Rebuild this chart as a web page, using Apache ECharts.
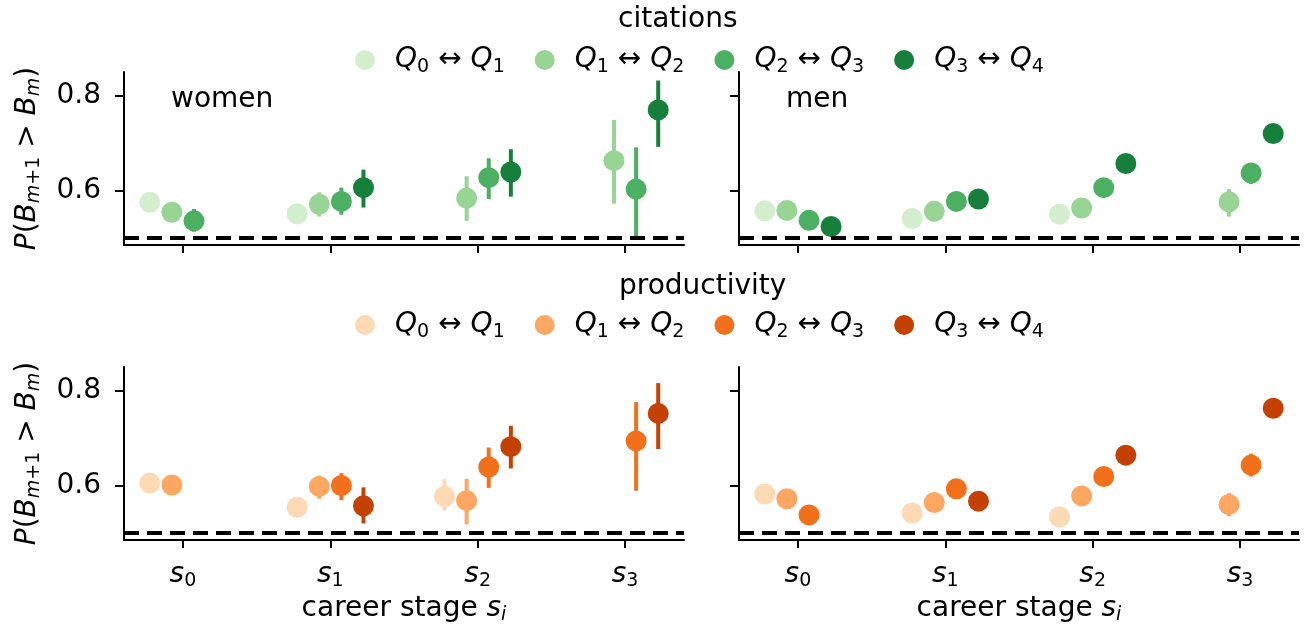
<!DOCTYPE html>
<html>
<head>
<meta charset="utf-8">
<script src="https://cdn.jsdelivr.net/npm/echarts@6/dist/echarts.min.js"></script>
<style>
  html, body { margin: 0; padding: 0; background: #fff; }
  #chart { width: 1306px; height: 632px; }
</style>
</head>
<body>
<div id="chart"></div>
<script>
// career stages (x ticks) and quantile pairs (legend)
const stages = [0, 1, 2, 3];
const pairLabels = [['0', '1'], ['1', '2'], ['2', '3'], ['3', '4']];
const yTicks = [0.6, 0.8];

// rows: Q0<->Q1 .. Q3<->Q4, columns: s0 .. s3
const citWomen   = [[0.575, 0.551, null, null], [0.554, 0.571, 0.584, 0.663], [0.536, 0.577, 0.627, 0.603], [null, 0.606, 0.639, 0.770]];
const citWomenLo = [[0.566, 0.542, null, null], [0.545, 0.545, 0.536, 0.572], [0.513, 0.549, 0.582, 0.504], [null, 0.564, 0.587, 0.692]];
const citWomenHi = [[0.584, 0.560, null, null], [0.563, 0.596, 0.630, 0.749], [0.561, 0.606, 0.668, 0.691], [null, 0.644, 0.687, 0.832]];

const citMen     = [[0.557, 0.541, 0.550, null], [0.558, 0.556, 0.563, 0.576], [0.537, 0.577, 0.606, 0.637], [0.524, 0.582, 0.657, 0.720]];
const citMenLo   = [[0.549, 0.533, 0.542, null], [0.550, 0.548, 0.555, 0.545], [0.529, 0.569, 0.597, 0.614], [0.515, 0.573, 0.647, 0.708]];
const citMenHi   = [[0.565, 0.549, 0.558, null], [0.566, 0.564, 0.571, 0.603], [0.545, 0.585, 0.615, 0.658], [0.533, 0.591, 0.667, 0.732]];

const prodWomen   = [[0.605, 0.554, 0.577, null], [0.601, 0.598, 0.568, null], [null, 0.600, 0.639, 0.694], [null, 0.557, 0.682, 0.752]];
const prodWomenLo = [[0.596, 0.545, 0.547, null], [0.592, 0.572, 0.518, null], [null, 0.569, 0.595, 0.589], [null, 0.520, 0.636, 0.677]];
const prodWomenHi = [[0.614, 0.563, 0.613, null], [0.610, 0.621, 0.614, null], [null, 0.626, 0.680, 0.776], [null, 0.596, 0.726, 0.816]];

const prodMen     = [[0.582, 0.542, 0.534, null], [0.572, 0.564, 0.578, 0.560], [0.538, 0.593, 0.619, 0.643], [null, 0.567, 0.664, 0.763]];
const prodMenLo   = [[0.574, 0.534, 0.526, null], [0.564, 0.556, 0.570, 0.535], [0.530, 0.585, 0.610, 0.619], [null, 0.558, 0.654, 0.751]];
const prodMenHi   = [[0.590, 0.550, 0.542, null], [0.580, 0.572, 0.586, 0.584], [0.546, 0.601, 0.628, 0.667], [null, 0.576, 0.674, 0.775]];

const FONT = 'DejaVu Sans';
const greens = ['#d3eecd', '#98d594', '#4bb062', '#157f3b'];
const oranges = ['#fdd9b4', '#fda762', '#f3701b', '#c54102'];
const dodge = [-0.225, -0.075, 0.075, 0.225];

const rich = {
  i: { fontFamily: FONT, fontSize: 28, fontStyle: 'italic', color: '#000' },
  n: { fontFamily: FONT, fontSize: 28, color: '#000' },
  sub: { fontFamily: FONT, fontSize: 19, color: '#000', padding: [14, 0, 0, 0] },
  si: { fontFamily: FONT, fontSize: 19, fontStyle: 'italic', color: '#000', padding: [14, 0, 0, 0] }
};

const panels = [
  { mean: citWomen, lo: citWomenLo, hi: citWomenHi, colors: greens, key: 'cit' },
  { mean: citMen, lo: citMenLo, hi: citMenHi, colors: greens, key: 'cit' },
  { mean: prodWomen, lo: prodWomenLo, hi: prodWomenHi, colors: oranges, key: 'prod' },
  { mean: prodMen, lo: prodMenLo, hi: prodMenHi, colors: oranges, key: 'prod' }
];

const grids = [
  { left: 124, top: 72, width: 560, height: 173 },
  { left: 739, top: 72, width: 560, height: 173 },
  { left: 124, top: 367, width: 560, height: 173 },
  { left: 739, top: 367, width: 560, height: 173 }
];

const axisLine = { show: true, onZero: false, lineStyle: { color: '#000', width: 2 } };
const tickLine = { color: '#000', width: 2 };

const xAxes = grids.map((g, i) => ({
  gridIndex: i, type: 'value', min: -0.4, max: 3.4,
  axisLine: axisLine,
  axisTick: { show: true, customValues: stages, length: 8, lineStyle: tickLine },
  axisLabel: {
    show: i >= 2, customValues: stages, margin: 18,
    formatter: v => `{i|s}{sub|${v}}`, rich: rich
  },
  splitLine: { show: false },
  name: i >= 2 ? '{n|career stage }{i|s}{si|i}' : '',
  nameLocation: 'middle', nameGap: 52,
  nameTextStyle: { rich: rich }
}));

const yAxes = grids.map((g, i) => ({
  gridIndex: i, type: 'value', min: 0.485, max: 0.85,
  axisLine: axisLine,
  axisTick: { show: true, customValues: yTicks, length: 9, lineStyle: tickLine },
  axisLabel: {
    show: i % 2 === 0, customValues: yTicks, margin: 23,
    formatter: v => v.toFixed(1), fontFamily: FONT, fontSize: 28, color: '#000'
  },
  splitLine: { show: false },
  name: i % 2 === 0 ? '{i|P}{n|(}{i|B}{si|m}{sub|+1}{n| > }{i|B}{si|m}{n|)}' : '',
  nameLocation: 'middle', nameRotate: 90, nameGap: 80,
  nameTextStyle: { rich: rich }
}));

const series = [];
panels.forEach((p, gi) => {
  p.mean.forEach((row, q) => {
    const color = p.colors[q];
    const pts = [];
    const bars = [];
    stages.forEach((s, si) => {
      if (row[si] == null) return;
      pts.push([s + dodge[q], row[si]]);
      bars.push([s + dodge[q], p.lo[q][si], p.hi[q][si]]);
    });
    series.push({
      type: 'custom', name: p.key + '-err' + q,
      xAxisIndex: gi, yAxisIndex: gi, silent: true, z: 2,
      encode: { x: 0, y: [1, 2] },
      data: bars,
      renderItem: (params, api) => {
        const a = api.coord([api.value(0), api.value(1)]);
        const b = api.coord([api.value(0), api.value(2)]);
        return {
          type: 'line',
          shape: { x1: a[0], y1: a[1], x2: b[0], y2: b[1] },
          style: { stroke: color, lineWidth: 4 }
        };
      }
    });
    const sc = {
      type: 'scatter', name: p.key + q,
      xAxisIndex: gi, yAxisIndex: gi, z: 3,
      symbol: 'circle', symbolSize: 21,
      itemStyle: { color: color, opacity: 1 },
      data: pts
    };
    if (q === 0) {
      sc.markLine = {
        silent: true, symbol: 'none', label: { show: false },
        lineStyle: { color: '#000', type: [15, 8], width: 4, opacity: 1 },
        emphasis: { disabled: true },
        data: [{ yAxis: 0.5 }]
      };
    }
    series.push(sc);
  });
});

const legendFmt = name => {
  const q = +name.slice(-1);
  return `{q|Q}{sub|${pairLabels[q][0]}}{t|↔}{q|Q}{sub|${pairLabels[q][1]}}`;
};
const legendText = {
  padding: [0, 0, 0, 15],
  rich: {
    q: { fontFamily: FONT, fontSize: 28, fontStyle: 'italic', color: '#000' },
    t: { fontFamily: FONT, fontSize: 28, color: '#000', padding: [0, 9, 0, 9] },
    sub: { fontFamily: FONT, fontSize: 19, color: '#000', padding: [14, 0, 0, 0] }
  }
};

const titleStyle = { fontFamily: FONT, fontSize: 28, fontWeight: 'normal', color: '#000' };

const chart = echarts.init(document.getElementById('chart'));
chart.setOption({
  animation: false,
  backgroundColor: '#fff',
  title: [
    { text: 'citations', left: 618, top: 6, padding: 0, textStyle: titleStyle },
    { text: 'productivity', left: 619, top: 273, padding: 0, textStyle: titleStyle },
    { text: 'women', left: 171, top: 86, padding: 0, textStyle: titleStyle },
    { text: 'men', left: 786, top: 86, padding: 0, textStyle: titleStyle }
  ],
  legend: [
    {
      data: ['cit0', 'cit1', 'cit2', 'cit3'], left: 355, top: 46, padding: 0,
      icon: 'circle', itemWidth: 20, itemHeight: 20, itemGap: 30,
      formatter: legendFmt, textStyle: legendText, selectedMode: false
    },
    {
      data: ['prod0', 'prod1', 'prod2', 'prod3'], left: 355, top: 311, padding: 0,
      icon: 'circle', itemWidth: 20, itemHeight: 20, itemGap: 30,
      formatter: legendFmt, textStyle: legendText, selectedMode: false
    }
  ],
  grid: grids,
  xAxis: xAxes,
  yAxis: yAxes,
  series: series
});
</script>
</body>
</html>
